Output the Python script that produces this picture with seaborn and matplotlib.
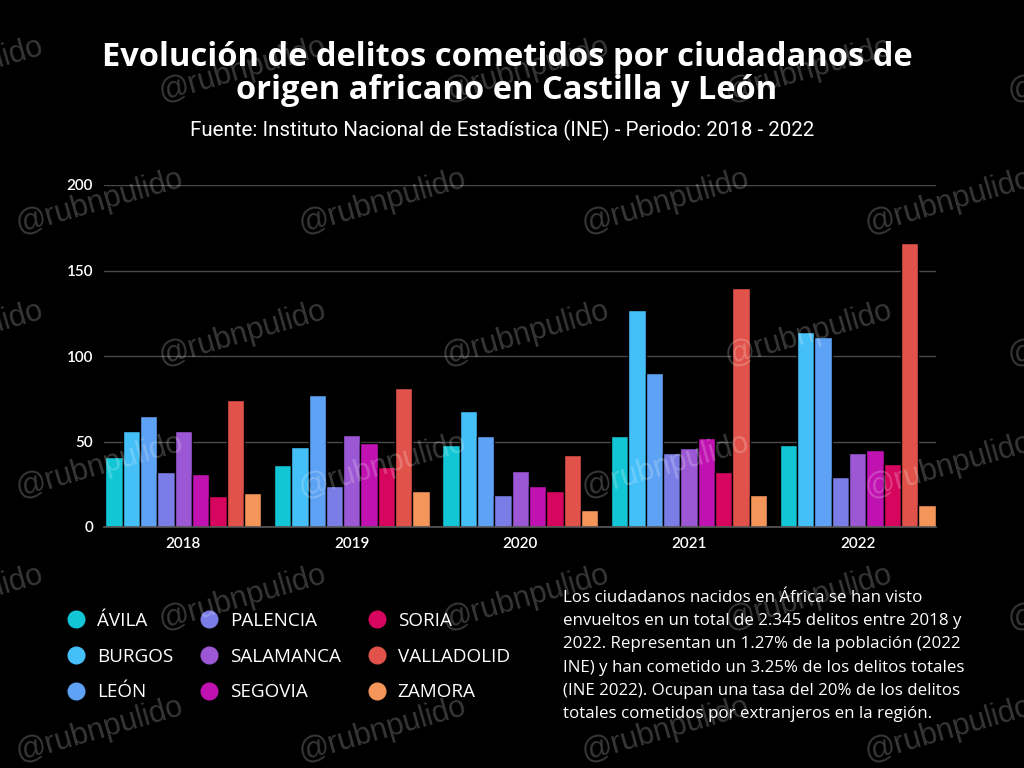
import matplotlib
matplotlib.use("Agg")
import matplotlib.pyplot as plt
import seaborn as sns
import pandas as pd
from matplotlib.lines import Line2D

# ---------------- data ----------------
years = ["2018", "2019", "2020", "2021", "2022"]
provinces = ["ÁVILA", "BURGOS", "LEÓN", "PALENCIA", "SALAMANCA",
             "SEGOVIA", "SORIA", "VALLADOLID", "ZAMORA"]
avila = [41, 36, 48, 53, 48]
burgos = [56, 47, 68, 127, 114]
leon = [65, 77, 53, 90, 111]
palencia = [32, 24, 19, 43, 29]
salamanca = [56, 54, 33, 46, 43]
segovia = [31, 49, 24, 52, 45]
soria = [18, 35, 21, 32, 37]
valladolid = [74, 81, 42, 140, 166]
zamora = [20, 21, 10, 19, 13]
series = [avila, burgos, leon, palencia, salamanca, segovia, soria, valladolid, zamora]
colors = ["#12c6d6", "#45bff8", "#5da2f4", "#7b7de6", "#9b57d4",
          "#bf12b0", "#d6065f", "#e0524a", "#f4955a"]
yticks = [0, 50, 100, 150, 200]

title = "Evolución de delitos cometidos por ciudadanos de\norigen africano en Castilla y León"
subtitle = "Fuente: Instituto Nacional de Estadística (INE) - Periodo: 2018 - 2022"
note = ("Los ciudadanos nacidos en África se han visto\n"
        "envueltos en un total de 2.345 delitos entre 2018 y\n"
        "2022. Representan un 1.27% de la población (2022\n"
        "INE) y han cometido un 3.25% de los delitos totales\n"
        "(INE 2022). Ocupan una tasa del 20% de los delitos\n"
        "totales cometidos por extranjeros en la región.")
watermark = "@rubnpulido"

rows = []
for prov, vals in zip(provinces, series):
    for yr, v in zip(years, vals):
        rows.append({"year": yr, "province": prov, "value": v})
df = pd.DataFrame(rows)

# ---------------- figure ----------------
sns.set_theme(style="dark")
plt.rcParams["font.family"] = ["Open Sans", "DejaVu Sans"]

fig = plt.figure(figsize=(10.24, 7.68), dpi=100)
fig.patch.set_facecolor("black")
ax = fig.add_axes([104 / 1024, 1 - 527 / 768, (936 - 104) / 1024, (527 - 185) / 768])
ax.set_facecolor("black")

sns.barplot(data=df, x="year", y="value", hue="province", order=years,
            hue_order=provinces, palette=colors, saturation=1, width=0.925,
            edgecolor="black", linewidth=1.0, ax=ax, legend=False)

ax.set_xlim(-0.47, 4.465)
ax.set_ylim(0, 200)
ax.set_yticks(yticks)
ax.set_xlabel("")
ax.set_ylabel("")
ax.grid(axis="y", color="#4a4a4a", linewidth=1.0)
ax.grid(axis="x", visible=False)
ax.set_axisbelow(True)
for s in ["top", "right", "left"]:
    ax.spines[s].set_visible(False)
ax.spines["bottom"].set_visible(True)
ax.spines["bottom"].set_color("#5a5a5a")
ax.spines["bottom"].set_linewidth(1.2)
ax.tick_params(axis="both", length=0, colors="white")
ax.tick_params(axis="y", pad=8, labelsize=11)
ax.tick_params(axis="x", pad=7, labelsize=11)
for lab in ax.get_xticklabels() + ax.get_yticklabels():
    lab.set_fontweight("semibold")
    lab.set_family(["Lato", "DejaVu Sans"])

# titles
fig.text(507 / 1024, 1 - 74 / 768, title, ha="center", va="center", color="white",
         fontsize=23.5, fontweight="bold", linespacing=0.97)
fig.text(502 / 1024, 1 - 130 / 768, subtitle, ha="center", va="center", color="white",
         fontsize=14.8, family=["Roboto", "DejaVu Sans"])

# legend
handles = [Line2D([], [], marker="o", linestyle="", markersize=12,
                  markerfacecolor=c, markeredgecolor=c) for c in colors]
leg = fig.legend(handles, provinces, ncol=3, loc="upper left",
                 bbox_to_anchor=(50 / 1024, 1 - 595 / 768), frameon=False,
                 fontsize=13.6, labelcolor="white", handletextpad=0.6,
                 columnspacing=1.4, labelspacing=0.93, handlelength=1.0)

# note
fig.text(563 / 1024, 1 - 590 / 768, note, ha="left", va="top", color="white",
         fontsize=12.2, linespacing=1.6)

# watermarks
for r in range(6):
    yc = 70 + r * 132
    xs0 = -40 if r % 2 == 0 else 100
    for c in range(5):
        xc = xs0 + c * 283
        fig.text(xc / 1024, 1 - yc / 768, watermark, ha="center", va="center",
                 rotation=16, color=(1, 1, 1, 0.22), fontsize=22,
                 family=["Liberation Sans", "DejaVu Sans"], zorder=10)

fig.savefig("out.png", dpi=100, facecolor="black")
